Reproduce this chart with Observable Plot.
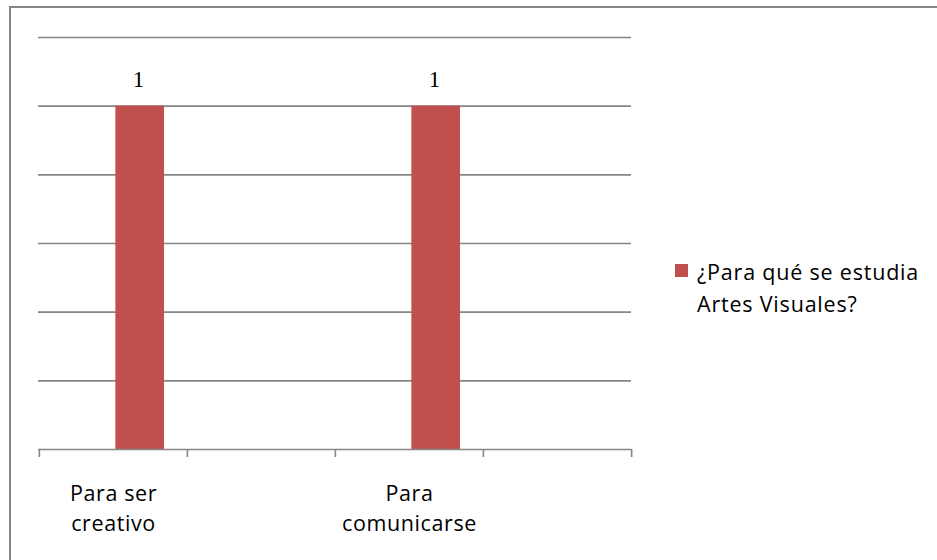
<!DOCTYPE html>
<html>
<head>
<meta charset="utf-8">
<script src="https://cdn.jsdelivr.net/npm/d3@7"></script>
<script src="https://cdn.jsdelivr.net/npm/@observablehq/plot@0.6"></script>
<style>
  html, body { margin: 0; padding: 0; background: #fff; }
  #wrap { position: relative; width: 937px; height: 560px; overflow: hidden; }
  #border { position: absolute; left: 9px; top: 6px; width: 940px; height: 600px;
            border-left: 2px solid #868686; border-top: 2px solid #868686; }
  #legend { position: absolute; left: 675px; top: 256px; font-family: "Open Sans", sans-serif;
            font-size: 21.5px; letter-spacing: 0.8px; line-height: 32px; color: #000; }
  #legend .sw { position: absolute; left: 0; top: 8px; width: 13px; height: 13px; background: #C0504D; }
  #legend .tx { margin-left: 22px; white-space: nowrap; }
  #chart { position: absolute; left: 0; top: 0; }
  #chart g[aria-label="x-axis tick label"] text { letter-spacing: 0.6px; }
</style>
</head>
<body>
<div id="wrap">
  <div id="chart"></div>
  <div id="border"></div>
  <div id="legend"><div class="sw"></div><div class="tx" id="legtext"></div></div>
</div>
<script>
const categories = ["Para ser\ncreativo", "", "Para\ncomunicarse", ""];
const values = [1, null, 1, null];
const seriesName = "¿Para qué se estudia\nArtes Visuales?";
const yTicks = [0.2, 0.4, 0.6, 0.8, 1.0, 1.2];

const idx = categories.map((_, i) => i);
const data = idx.map(i => ({i, v: values[i]})).filter(d => d.v != null);

const W = 937, H = 560, ML = 38, MR = 306, MT = 37, MB = 111;
const bw = (W - ML - MR) / categories.length;

const chart = Plot.plot({
  width: W, height: H,
  marginLeft: ML, marginRight: MR, marginTop: MT, marginBottom: MB,
  style: {background: "transparent"},
  x: {type: "band", domain: idx, paddingInner: 0, paddingOuter: 0, axis: null, label: null},
  y: {type: "linear", domain: [0, 1.2], axis: null, label: null},
  marks: [
    Plot.ruleY(yTicks, {stroke: "#868686", strokeWidth: 1.6}),
    Plot.barY(data, {x: "i", y: "v", fill: "#C0504D", insetLeft: bw * 0.515, insetRight: bw * 0.155}),
    Plot.ruleY([0], {stroke: "#868686", strokeWidth: 1.6}),
    Plot.ruleX(idx, {x: d => d, y1: 0, y2: 0, insetBottom: -8, dx: -bw / 2, stroke: "#868686", strokeWidth: 1.6}),
    Plot.ruleX([idx[idx.length - 1]], {x: d => d, y1: 0, y2: 0, insetBottom: -8, dx: bw / 2, stroke: "#868686", strokeWidth: 1.6}),
    Plot.text(data, {x: "i", y: "v", text: d => String(d.v), dy: -27, dx: bw * 0.168,
      fontFamily: "Liberation Serif", fontSize: 23, fill: "#000"}),
    Plot.axisX({tickSize: 0, tickPadding: 31, tickFormat: i => categories[i], label: null,
      fontSize: 21.5, fontFamily: "Open Sans", lineHeight: 1.36, fill: "#000"})
  ]
});
document.getElementById("chart").appendChild(chart);
document.getElementById("legtext").innerHTML = seriesName.replace("\n", "<br>");
</script>
</body>
</html>
